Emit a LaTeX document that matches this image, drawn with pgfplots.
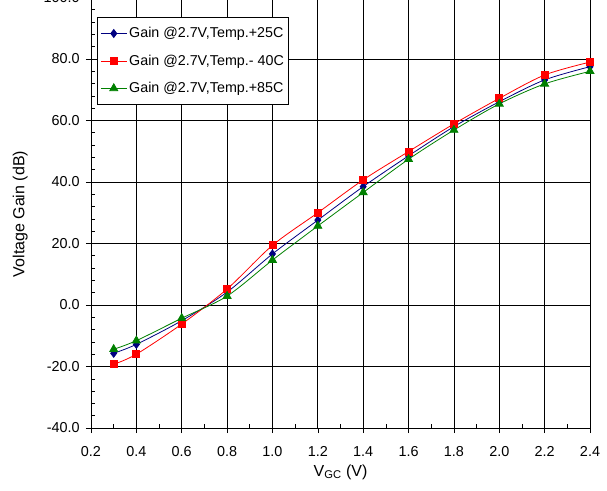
\documentclass[border=0pt]{standalone}
\usepackage{fontspec}
\setmainfont{Liberation Sans}
\usepackage{pgfplots}
\pgfplotsset{compat=1.18}
\definecolor{gnavy}{RGB}{0,0,128}
\definecolor{gred}{RGB}{255,0,0}
\definecolor{ggreen}{RGB}{0,128,0}
\begin{document}
\fontsize{14bp}{16bp}\selectfont
\begin{tikzpicture}
\begin{axis}[
  scale only axis,
  width=499bp, height=430.5bp,
  xmin=0.2, xmax=2.4, ymin=-40, ymax=100,
  xtick={0.2,0.4,...,2.41},
  ytick={-40,-20,0,20,40,60,80,100},
  minor x tick num=1,
  minor y tick num=4,
  xtick pos=left, ytick pos=left,
  tick align=outside,
  major tick length=5bp,
  minor tick length=4bp,
  minor x tick style={yshift=4bp},
  minor y tick style={xshift=4bp},
  tick style={black, line width=0.6bp},
  axis line style={black, line width=0.8bp},
  grid=major,
  major grid style={black, line width=0.7bp},
  /pgf/number format/assume math mode=true,
  xticklabel={\pgfmathprintnumber[fixed,fixed zerofill,precision=1]{\tick}},
  yticklabel={\pgfmathprintnumber[fixed,fixed zerofill,precision=1]{\tick}},
  ticklabel style={font=\fontsize{14.4bp}{16bp}\selectfont},
  xticklabel style={yshift=-9bp},
  yticklabel style={xshift=-1.5bp},
  xlabel={V\textsubscript{GC} (V)},
  ylabel={Voltage Gain (dB)},
  xlabel style={at={(axis description cs:0.5,0)}, anchor=center, yshift=-44bp, font=\fontsize{16bp}{18bp}\selectfont},
  ylabel style={at={(axis description cs:-0.142,0.497)}, anchor=center, font=\fontsize{16bp}{18bp}\selectfont},
  legend cell align=left,
  legend style={at={(axis description cs:0.012,0.955)}, anchor=north west,
    draw=black, line width=0.8bp, fill=white, font=\fontsize{14.3bp}{16bp}\selectfont,
    row sep=11bp, inner xsep=3bp, inner ysep=8bp},
  legend image code/.code={\draw[mark repeat=2,mark phase=2] plot coordinates {(0bp,0bp) (13bp,0bp) (26bp,0bp)};},
]
\addplot[gnavy, line width=0.8bp, smooth, tension=0.5, mark=diamond*, mark size=4bp, mark options={solid, fill=gnavy}]
coordinates {(0.3,-15.7)(0.4,-12.8)(0.6,-5.1)(0.8,4.2)(1.0,16.6)(1.2,27.6)(1.4,38.5)(1.6,48.5)(1.8,58.0)(2.0,66.1)(2.2,73.2)(2.4,77.5)};
\addlegendentry{Gain @2.7V,Temp.+25C}
\addplot[gred, line width=0.8bp, smooth, tension=0.5, mark=square*, mark size=3.5bp, mark options={solid, fill=gred}]
coordinates {(0.3,-19.3)(0.4,-16.0)(0.6,-6.2)(0.8,5.2)(1.0,19.4)(1.2,30.0)(1.4,40.7)(1.6,49.9)(1.8,58.9)(2.0,67.2)(2.2,74.8)(2.4,79.0)};
\addlegendentry{Gain @2.7V,Temp.- 40C}
\addplot[ggreen, line width=0.8bp, smooth, tension=0.5, mark=triangle*, mark size=4.6bp, mark options={solid, fill=ggreen}]
coordinates {(0.3,-14.4)(0.4,-11.6)(0.6,-4.3)(0.8,2.9)(1.0,14.6)(1.2,25.7)(1.4,36.6)(1.6,47.4)(1.8,56.9)(2.0,65.4)(2.2,71.9)(2.4,76.0)};
\addlegendentry{Gain @2.7V,Temp.+85C}
\end{axis}
\pgfresetboundingbox
\path[use as bounding box] (-91bp,-63bp) rectangle (516bp,428bp);
\end{tikzpicture}
\end{document}
